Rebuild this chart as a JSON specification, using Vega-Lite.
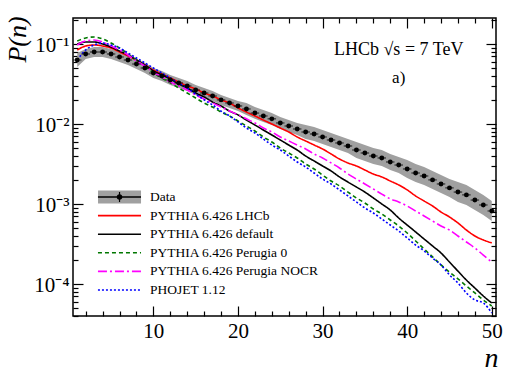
{
 "$schema": "https://vega.github.io/schema/vega-lite/v6.json",
 "width": 423, "height": 298,
 "autosize": {"type": "none"},
 "padding": {"left": 73, "top": 18, "right": 27, "bottom": 60},
 "background": "white",
 "config": {"view": {"stroke": "black", "strokeWidth": 1.5}, "font": "Liberation Serif",
   "axis": {"domain": false, "grid": false, "tickColor": "black", "tickWidth": 1.2, "labelColor": "black", "titleColor": "black", "labelFont": "Liberation Serif", "titleFont": "Liberation Serif"}},
 "datasets": {
  "pn": [
   {"n":1,"data":0.0631,"lo":0.0516,"hi":0.0772,"lhcb":0.0841,"default":0.1,"perugia0":0.109,"nocr":0.0972,"phojet":0.0631},
   {"n":2,"data":0.075,"lo":0.0649,"hi":0.0866,"lhcb":0.0944,"default":0.1059,"perugia0":0.1189,"nocr":0.109,"phojet":0.0841},
   {"n":3,"data":0.0794,"lo":0.0688,"hi":0.0917,"lhcb":0.0972,"default":0.1059,"perugia0":0.1223,"nocr":0.1122,"phojet":0.0972},
   {"n":4,"data":0.0794,"lo":0.0688,"hi":0.0917,"lhcb":0.0944,"default":0.1,"perugia0":0.1155,"nocr":0.1059,"phojet":0.1029},
   {"n":5,"data":0.075,"lo":0.0649,"hi":0.0866,"lhcb":0.0891,"default":0.0917,"perugia0":0.1029,"nocr":0.0944,"phojet":0.0972},
   {"n":6,"data":0.0688,"lo":0.0596,"hi":0.0794,"lhcb":0.0794,"default":0.0818,"perugia0":0.0891,"nocr":0.0841,"phojet":0.0891},
   {"n":7,"data":0.0631,"lo":0.0546,"hi":0.0729,"lhcb":0.0708,"default":0.0729,"perugia0":0.075,"nocr":0.0729,"phojet":0.0772},
   {"n":8,"data":0.0562,"lo":0.0487,"hi":0.0649,"lhcb":0.0631,"default":0.0631,"perugia0":0.0631,"nocr":0.0613,"phojet":0.0668},
   {"n":9,"data":0.0501,"lo":0.0434,"hi":0.0579,"lhcb":0.0546,"default":0.0546,"perugia0":0.0531,"nocr":0.0531,"phojet":0.0579},
   {"n":10,"data":0.0434,"lo":0.0376,"hi":0.0501,"lhcb":0.0473,"default":0.046,"perugia0":0.0434,"nocr":0.0447,"phojet":0.0501},
   {"n":11,"data":0.0398,"lo":0.0345,"hi":0.046,"lhcb":0.0422,"default":0.041,"perugia0":0.0376,"nocr":0.0387,"phojet":0.0434},
   {"n":12,"data":0.0355,"lo":0.0307,"hi":0.041,"lhcb":0.0376,"default":0.0365,"perugia0":0.0326,"nocr":0.0335,"phojet":0.0376},
   {"n":13,"data":0.0326,"lo":0.0282,"hi":0.0376,"lhcb":0.0335,"default":0.0316,"perugia0":0.0282,"nocr":0.0299,"phojet":0.0326},
   {"n":14,"data":0.0299,"lo":0.0259,"hi":0.0345,"lhcb":0.0299,"default":0.0282,"perugia0":0.0244,"nocr":0.0266,"phojet":0.0282},
   {"n":15,"data":0.0266,"lo":0.023,"hi":0.0307,"lhcb":0.0274,"default":0.0244,"perugia0":0.0211,"nocr":0.023,"phojet":0.0237},
   {"n":16,"data":0.0244,"lo":0.0211,"hi":0.0282,"lhcb":0.0244,"default":0.0218,"perugia0":0.0183,"nocr":0.0205,"phojet":0.02},
   {"n":17,"data":0.0224,"lo":0.0194,"hi":0.0259,"lhcb":0.0224,"default":0.0188,"perugia0":0.0163,"nocr":0.0183,"phojet":0.0173},
   {"n":18,"data":0.02,"lo":0.0173,"hi":0.023,"lhcb":0.02,"default":0.0168,"perugia0":0.0141,"nocr":0.0163,"phojet":0.0145},
   {"n":19,"data":0.0183,"lo":0.0159,"hi":0.0211,"lhcb":0.0183,"default":0.0145,"perugia0":0.0126,"nocr":0.0145,"phojet":0.0126},
   {"n":20,"data":0.0168,"lo":0.0145,"hi":0.0194,"lhcb":0.0159,"default":0.013,"perugia0":0.0109,"nocr":0.013,"phojet":0.0106},
   {"n":21,"data":0.0154,"lo":0.013,"hi":0.0183,"lhcb":0.0141,"default":0.0112,"perugia0":0.00944,"nocr":0.0116,"phojet":0.00891},
   {"n":22,"data":0.0137,"lo":0.0116,"hi":0.0163,"lhcb":0.0126,"default":0.00972,"perugia0":0.00818,"nocr":0.0103,"phojet":0.00772},
   {"n":23,"data":0.0126,"lo":0.0106,"hi":0.015,"lhcb":0.0112,"default":0.00841,"perugia0":0.00688,"nocr":0.00891,"phojet":0.00649},
   {"n":24,"data":0.0116,"lo":0.00972,"hi":0.0137,"lhcb":0.01,"default":0.00729,"perugia0":0.00596,"nocr":0.00794,"phojet":0.00546},
   {"n":25,"data":0.0103,"lo":0.00866,"hi":0.0122,"lhcb":0.00891,"default":0.00631,"perugia0":0.00501,"nocr":0.00688,"phojet":0.00473},
   {"n":26,"data":0.00944,"lo":0.00794,"hi":0.0112,"lhcb":0.00794,"default":0.00546,"perugia0":0.00434,"nocr":0.00613,"phojet":0.00398},
   {"n":27,"data":0.00866,"lo":0.00729,"hi":0.0103,"lhcb":0.00688,"default":0.00473,"perugia0":0.00376,"nocr":0.00546,"phojet":0.00335},
   {"n":28,"data":0.00794,"lo":0.00649,"hi":0.00972,"lhcb":0.00613,"default":0.00398,"perugia0":0.00316,"nocr":0.00487,"phojet":0.0029},
   {"n":29,"data":0.0075,"lo":0.00613,"hi":0.00917,"lhcb":0.00546,"default":0.00345,"perugia0":0.00274,"nocr":0.00422,"phojet":0.00244},
   {"n":30,"data":0.00688,"lo":0.00562,"hi":0.00841,"lhcb":0.00487,"default":0.00299,"perugia0":0.0023,"nocr":0.00376,"phojet":0.00205},
   {"n":31,"data":0.00631,"lo":0.00516,"hi":0.00772,"lhcb":0.00422,"default":0.00259,"perugia0":0.00194,"nocr":0.00326,"phojet":0.00178},
   {"n":32,"data":0.00579,"lo":0.00473,"hi":0.00708,"lhcb":0.00365,"default":0.00218,"perugia0":0.00168,"nocr":0.00282,"phojet":0.0015},
   {"n":33,"data":0.00531,"lo":0.00434,"hi":0.00649,"lhcb":0.00326,"default":0.00188,"perugia0":0.00141,"nocr":0.00237,"phojet":0.00126},
   {"n":34,"data":0.00473,"lo":0.00376,"hi":0.00596,"lhcb":0.00299,"default":0.00163,"perugia0":0.00119,"nocr":0.00205,"phojet":0.00106},
   {"n":35,"data":0.00434,"lo":0.00345,"hi":0.00546,"lhcb":0.00266,"default":0.00141,"perugia0":0.00103,"nocr":0.00178,"phojet":0.000891},
   {"n":36,"data":0.00398,"lo":0.00316,"hi":0.00501,"lhcb":0.00237,"default":0.00119,"perugia0":0.000866,"nocr":0.00154,"phojet":0.000772},
   {"n":37,"data":0.00376,"lo":0.00299,"hi":0.00473,"lhcb":0.00218,"default":0.001,"perugia0":0.00075,"nocr":0.00133,"phojet":0.000649},
   {"n":38,"data":0.00335,"lo":0.00266,"hi":0.00422,"lhcb":0.00194,"default":0.000841,"perugia0":0.000631,"nocr":0.00116,"phojet":0.000546},
   {"n":39,"data":0.00307,"lo":0.00244,"hi":0.00387,"lhcb":0.00173,"default":0.000668,"perugia0":0.000531,"nocr":0.00106,"phojet":0.00046},
   {"n":40,"data":0.00274,"lo":0.00211,"hi":0.00355,"lhcb":0.0015,"default":0.000546,"perugia0":0.000434,"nocr":0.000944,"phojet":0.000376},
   {"n":41,"data":0.00244,"lo":0.00188,"hi":0.00316,"lhcb":0.00126,"default":0.000447,"perugia0":0.000345,"nocr":0.000818,"phojet":0.000307},
   {"n":42,"data":0.00224,"lo":0.00173,"hi":0.0029,"lhcb":0.00109,"default":0.000365,"perugia0":0.000274,"nocr":0.000708,"phojet":0.000259},
   {"n":43,"data":0.002,"lo":0.00154,"hi":0.00259,"lhcb":0.000944,"default":0.000299,"perugia0":0.000218,"nocr":0.000613,"phojet":0.000211},
   {"n":44,"data":0.00178,"lo":0.00137,"hi":0.0023,"lhcb":0.000794,"default":0.000244,"perugia0":0.000173,"nocr":0.000531,"phojet":0.000173},
   {"n":45,"data":0.00159,"lo":0.00122,"hi":0.00205,"lhcb":0.000688,"default":0.000188,"perugia0":0.000141,"nocr":0.000473,"phojet":0.00013},
   {"n":46,"data":0.00141,"lo":0.00106,"hi":0.00188,"lhcb":0.000579,"default":0.000145,"perugia0":0.000116,"nocr":0.000398,"phojet":0.000103},
   {"n":47,"data":0.0013,"lo":0.000972,"hi":0.00173,"lhcb":0.000473,"default":0.000112,"perugia0":0.0000944,"nocr":0.000335,"phojet":0.0000772},
   {"n":48,"data":0.00112,"lo":0.000841,"hi":0.0015,"lhcb":0.000398,"default":0.0000891,"perugia0":0.0000772,"nocr":0.000282,"phojet":0.0000631},
   {"n":49,"data":0.000972,"lo":0.000729,"hi":0.0013,"lhcb":0.000355,"default":0.0000708,"perugia0":0.0000631,"nocr":0.00023,"phojet":0.0000579},
   {"n":50,"data":0.000818,"lo":0.000613,"hi":0.00109,"lhcb":0.000326,"default":0.0000579,"perugia0":0.0000531,"nocr":0.000188,"phojet":0.0000434}
  ],
  "legend": [
   {"key": "data", "label": "Data"},
   {"key": "lhcb", "label": "PYTHIA 6.426 LHCb"},
   {"key": "default", "label": "PYTHIA 6.426 default"},
   {"key": "perugia0", "label": "PYTHIA 6.426 Perugia 0"},
   {"key": "nocr", "label": "PYTHIA 6.426 Perugia NOCR"},
   {"key": "phojet", "label": "PHOJET 1.12"}
  ]
 },
 "resolve": {"scale": {"x": "independent", "y": "independent"}, "axis": {"x": "independent", "y": "independent"}},
 "layer": [
  {
   "data": {"name": "pn"},
   "mark": {"type": "area", "color": "#a0a0a0", "clip": true},
   "encoding": {
    "x": {"field": "n", "type": "quantitative", "scale": {"domain": [0.5, 50.5], "nice": false, "zero": false},
      "axis": {"orient": "bottom", "values": [10, 20, 30, 40, 50], "ticks": false, "labelPadding": 4, "labelFont": "Liberation Serif", "labelFontSize": 21, "labelOverlap": false, "labelFlush": false,
        "title": "n", "titleFont": "Liberation Serif", "titleFontStyle": "italic", "titleFontWeight": "normal", "titleFontSize": 28, "titleX": 418, "titleY": 50, "titleAlign": "center", "titleBaseline": "alphabetic", "titleAnchor": null}},
    "y": {"field": "lo", "type": "quantitative", "scale": {"type": "log", "domain": [0.0000398, 0.2113], "nice": false},
      "axis": {"orient": "left", "values": [0.1, 0.01, 0.001, 0.0001], "ticks": false, "labelPadding": 4, "labelFont": "Liberation Serif", "labelFontSize": 21, "labelOverlap": false, "labelFlush": false, "labelOffset": 2,
        "labelExpr": "datum.value == 0.1 ? '10⁻¹' : datum.value == 0.01 ? '10⁻²' : datum.value == 0.001 ? '10⁻³' : '10⁻⁴'",
        "title": "P(n)", "titleFont": "Liberation Serif", "titleFontStyle": "italic", "titleFontWeight": "normal", "titleFontSize": 26, "titleX": -48, "titleY": 21, "titleAlign": "center", "titleBaseline": "alphabetic", "titleAngle": -90, "titleAnchor": null}},
    "y2": {"field": "hi"}
   }
  },
  {
   "data": {"name": "pn"},
   "transform": [{"fold": ["lhcb", "default", "perugia0", "nocr", "phojet"], "as": ["key", "p"]}],
   "mark": {"type": "line", "strokeWidth": 1.6, "clip": true, "interpolate": "monotone"},
   "encoding": {
    "x": {"field": "n", "type": "quantitative", "scale": {"domain": [0.5, 50.5], "nice": false, "zero": false},
      "axis": {"orient": "bottom", "values": [2,4,6,8,10,12,14,16,18,20,22,24,26,28,30,32,34,36,38,40,42,44,46,48,50], "labels": false, "title": null,
        "tickSize": {"condition": {"test": "datum.value % 10 === 0", "value": -10}, "value": -5}}},
    "y": {"field": "p", "type": "quantitative", "scale": {"type": "log", "domain": [0.0000398, 0.2113], "nice": false},
      "axis": {"orient": "left", "values": [0.00004,0.00005,0.00006,0.00007,0.00008,0.00009,0.0001,0.0002,0.0003,0.0004,0.0005,0.0006,0.0007,0.0008,0.0009,0.001,0.002,0.003,0.004,0.005,0.006,0.007,0.008,0.009,0.01,0.02,0.03,0.04,0.05,0.06,0.07,0.08,0.09,0.1,0.2], "labels": false, "title": null,
        "tickSize": {"condition": {"test": "datum.value == 0.1 || datum.value == 0.01 || datum.value == 0.001 || datum.value == 0.0001", "value": -10}, "value": -5}}},
    "color": {"field": "key", "type": "nominal", "scale": {"domain": ["lhcb", "default", "perugia0", "nocr", "phojet"], "range": ["#ff0000", "#000000", "#007700", "#ff00ff", "#0000ff"]}, "legend": null},
    "strokeDash": {"field": "key", "type": "nominal", "scale": {"domain": ["lhcb", "default", "perugia0", "nocr", "phojet"], "range": [[1, 0], [1, 0], [4, 3], [9, 3, 2, 3], [2, 2]]}, "legend": null}
   }
  },
  {
   "data": {"name": "pn"},
   "mark": {"type": "tick", "orient": "horizontal", "size": 8.5, "thickness": 1.2, "color": "black"},
   "encoding": {
    "x": {"field": "n", "type": "quantitative", "scale": {"domain": [0.5, 50.5], "nice": false, "zero": false},
      "axis": {"orient": "top", "values": [2,4,6,8,10,12,14,16,18,20,22,24,26,28,30,32,34,36,38,40,42,44,46,48,50], "labels": false, "title": null,
        "tickSize": {"condition": {"test": "datum.value % 10 === 0", "value": -10}, "value": -5}}},
    "y": {"field": "data", "type": "quantitative", "scale": {"type": "log", "domain": [0.0000398, 0.2113], "nice": false},
      "axis": {"orient": "right", "values": [0.00004,0.00005,0.00006,0.00007,0.00008,0.00009,0.0001,0.0002,0.0003,0.0004,0.0005,0.0006,0.0007,0.0008,0.0009,0.001,0.002,0.003,0.004,0.005,0.006,0.007,0.008,0.009,0.01,0.02,0.03,0.04,0.05,0.06,0.07,0.08,0.09,0.1,0.2], "labels": false, "title": null,
        "tickSize": {"condition": {"test": "datum.value == 0.1 || datum.value == 0.01 || datum.value == 0.001 || datum.value == 0.0001", "value": -10}, "value": -5}}}
   }
  },
  {
   "data": {"name": "pn"},
   "mark": {"type": "point", "shape": "circle", "filled": true, "size": 24, "color": "black", "opacity": 1},
   "encoding": {
    "x": {"field": "n", "type": "quantitative", "scale": {"domain": [0.5, 50.5], "nice": false, "zero": false}, "axis": null},
    "y": {"field": "data", "type": "quantitative", "scale": {"type": "log", "domain": [0.0000398, 0.2113], "nice": false}, "axis": null}
   }
  },
  {
   "data": {"name": "legend"},
   "transform": [{"filter": "datum.key == 'data'"}],
   "mark": {"type": "tick", "orient": "horizontal", "size": 43, "thickness": 13, "color": "#a0a0a0", "opacity": 1},
   "encoding": {
    "x": {"datum": 6.0, "type": "quantitative", "scale": {"domain": [0.5, 50.5], "nice": false, "zero": false}, "axis": null},
    "y": {"field": "label", "type": "nominal", "scale": {"type": "point", "domain": ["Data", "PYTHIA 6.426 LHCb", "PYTHIA 6.426 default", "PYTHIA 6.426 Perugia 0", "PYTHIA 6.426 Perugia NOCR", "PHOJET 1.12"], "range": [179, 272], "padding": 0}, "axis": null}
   }
  },
  {
   "data": {"name": "legend"},
   "transform": [{"filter": "datum.key == 'data'"}],
   "mark": {"type": "rule", "color": "black", "strokeWidth": 1.5},
   "encoding": {
    "x": {"datum": 3.45, "type": "quantitative", "scale": {"domain": [0.5, 50.5], "nice": false, "zero": false}, "axis": null},
    "x2": {"datum": 8.54},
    "y": {"field": "label", "type": "nominal", "scale": {"type": "point", "domain": ["Data", "PYTHIA 6.426 LHCb", "PYTHIA 6.426 default", "PYTHIA 6.426 Perugia 0", "PYTHIA 6.426 Perugia NOCR", "PHOJET 1.12"], "range": [179, 272], "padding": 0}, "axis": null}
   }
  },
  {
   "data": {"name": "legend"},
   "transform": [{"filter": "datum.key == 'data'"}],
   "mark": {"type": "tick", "orient": "vertical", "size": 10, "thickness": 1.2, "color": "black", "opacity": 1},
   "encoding": {
    "x": {"datum": 6.0, "type": "quantitative", "scale": {"domain": [0.5, 50.5], "nice": false, "zero": false}, "axis": null},
    "y": {"field": "label", "type": "nominal", "scale": {"type": "point", "domain": ["Data", "PYTHIA 6.426 LHCb", "PYTHIA 6.426 default", "PYTHIA 6.426 Perugia 0", "PYTHIA 6.426 Perugia NOCR", "PHOJET 1.12"], "range": [179, 272], "padding": 0}, "axis": null}
   }
  },
  {
   "data": {"name": "legend"},
   "transform": [{"filter": "datum.key == 'data'"}],
   "mark": {"type": "point", "shape": "circle", "filled": true, "size": 30, "color": "black", "opacity": 1},
   "encoding": {
    "x": {"datum": 6.0, "type": "quantitative", "scale": {"domain": [0.5, 50.5], "nice": false, "zero": false}, "axis": null},
    "y": {"field": "label", "type": "nominal", "scale": {"type": "point", "domain": ["Data", "PYTHIA 6.426 LHCb", "PYTHIA 6.426 default", "PYTHIA 6.426 Perugia 0", "PYTHIA 6.426 Perugia NOCR", "PHOJET 1.12"], "range": [179, 272], "padding": 0}, "axis": null}
   }
  },
  {
   "data": {"name": "legend"},
   "transform": [{"filter": "datum.key != 'data'"}],
   "mark": {"type": "rule", "strokeWidth": 1.6},
   "encoding": {
    "x": {"datum": 3.45, "type": "quantitative", "scale": {"domain": [0.5, 50.5], "nice": false, "zero": false}, "axis": null},
    "x2": {"datum": 8.54},
    "y": {"field": "label", "type": "nominal", "scale": {"type": "point", "domain": ["Data", "PYTHIA 6.426 LHCb", "PYTHIA 6.426 default", "PYTHIA 6.426 Perugia 0", "PYTHIA 6.426 Perugia NOCR", "PHOJET 1.12"], "range": [179, 272], "padding": 0}, "axis": null},
    "color": {"field": "key", "type": "nominal", "scale": {"domain": ["lhcb", "default", "perugia0", "nocr", "phojet"], "range": ["#ff0000", "#000000", "#007700", "#ff00ff", "#0000ff"]}, "legend": null},
    "strokeDash": {"field": "key", "type": "nominal", "scale": {"domain": ["lhcb", "default", "perugia0", "nocr", "phojet"], "range": [[1, 0], [1, 0], [4, 3], [9, 3, 2, 3], [2, 2]]}, "legend": null}
   }
  },
  {
   "data": {"name": "legend"},
   "mark": {"type": "text", "align": "left", "baseline": "middle", "fontSize": 13.5, "font": "Liberation Serif", "color": "black"},
   "encoding": {
    "x": {"datum": 9.6, "type": "quantitative", "scale": {"domain": [0.5, 50.5], "nice": false, "zero": false}, "axis": null},
    "y": {"field": "label", "type": "nominal", "scale": {"type": "point", "domain": ["Data", "PYTHIA 6.426 LHCb", "PYTHIA 6.426 default", "PYTHIA 6.426 Perugia 0", "PYTHIA 6.426 Perugia NOCR", "PHOJET 1.12"], "range": [179, 272], "padding": 0}, "axis": null},
    "text": {"field": "label"}
   }
  },
  {
   "data": {"values": [{}]},
   "mark": {"type": "text", "text": "LHCb √s = 7 TeV", "align": "center", "baseline": "middle", "fontSize": 18, "font": "Liberation Serif", "color": "black"},
   "encoding": {
    "x": {"datum": 39.0, "type": "quantitative", "scale": {"domain": [0.5, 50.5], "nice": false, "zero": false}, "axis": null},
    "y": {"datum": 0.0841, "type": "quantitative", "scale": {"type": "log", "domain": [0.0000398, 0.2113], "nice": false}, "axis": null}
   }
  },
  {
   "data": {"values": [{}]},
   "mark": {"type": "text", "text": "a)", "align": "center", "baseline": "middle", "fontSize": 17, "font": "Liberation Serif", "color": "black"},
   "encoding": {
    "x": {"datum": 39.0, "type": "quantitative", "scale": {"domain": [0.5, 50.5], "nice": false, "zero": false}, "axis": null},
    "y": {"datum": 0.0376, "type": "quantitative", "scale": {"type": "log", "domain": [0.0000398, 0.2113], "nice": false}, "axis": null}
   }
  }
 ]
}
